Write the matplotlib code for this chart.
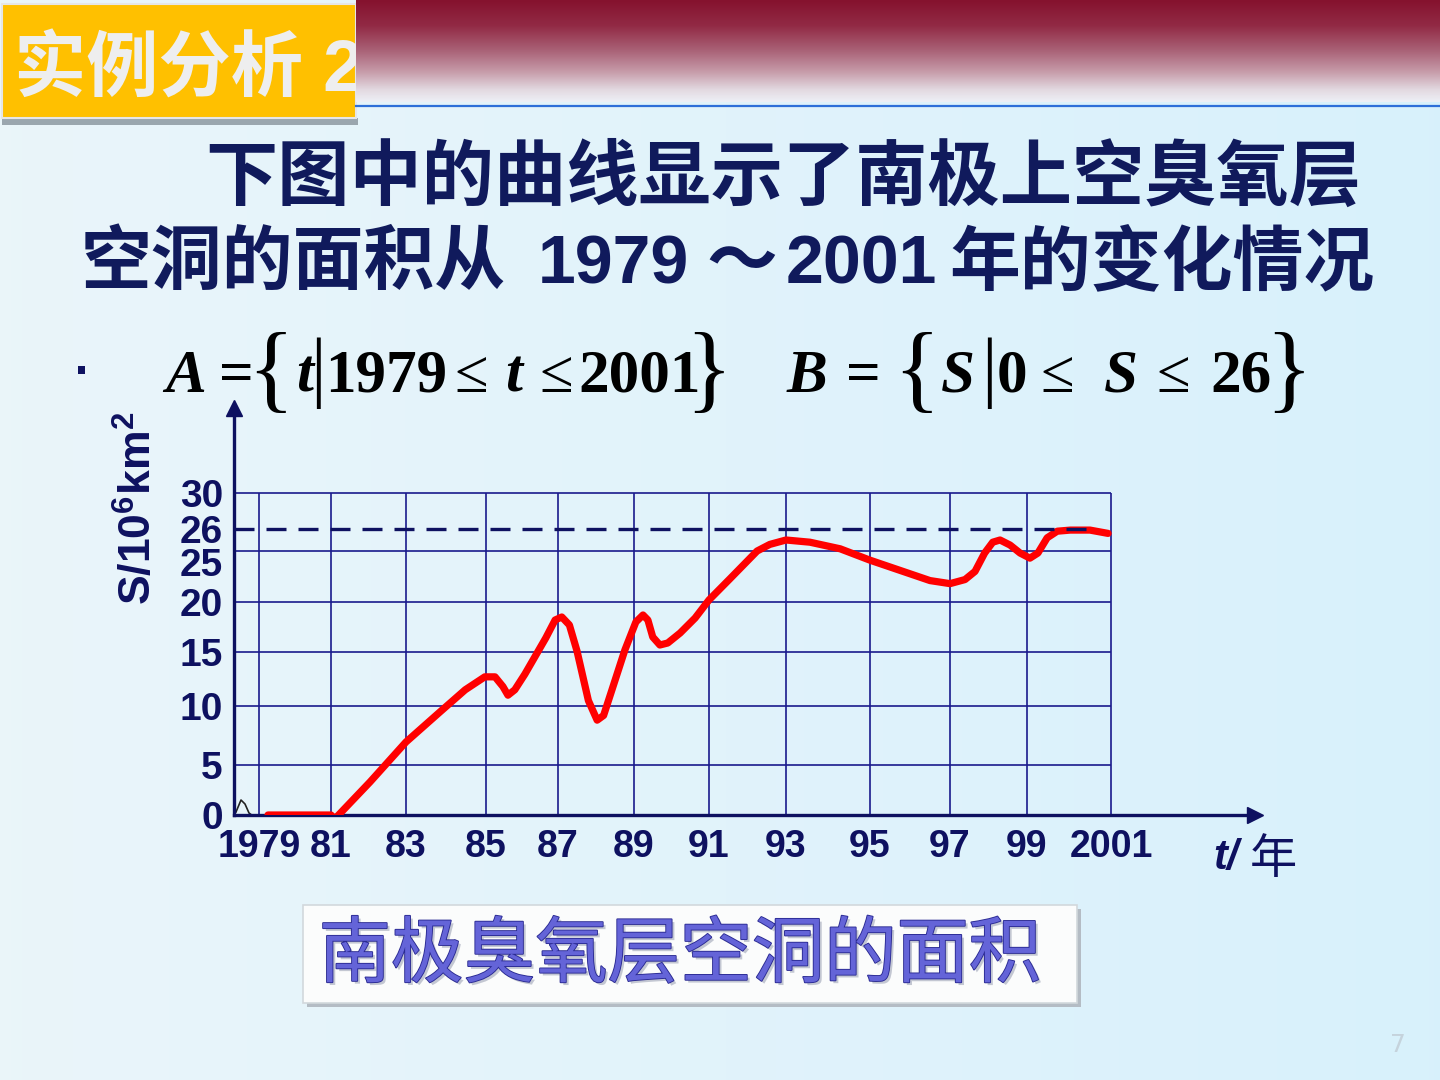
import numpy as np
import matplotlib.pyplot as plt
from matplotlib import patheffects as pe
from matplotlib.patches import Rectangle
from matplotlib.colors import LinearSegmentedColormap
from matplotlib.transforms import ScaledTranslation

plt.rcParams['mathtext.fontset'] = 'custom'
plt.rcParams['mathtext.rm'] = 'Liberation Sans:bold'
plt.rcParams['mathtext.it'] = 'Liberation Sans:italic:bold'

# ---- data ----
year_ticks = [1979, 1981, 1983, 1985, 1987, 1989, 1991, 1993, 1995, 1997, 1999, 2001]
year_labels = ['1979', '81', '83', '85', '87', '89', '91', '93', '95', '97', '99', '2001']
s_ticks = [0, 5, 10, 15, 20, 25, 26, 30]
s_labels = ['0', '5', '10', '15', '20', '25', '26', '30']
grid_s = [5, 10, 15, 20, 25, 30]
s_limit = 26

# ozone hole area (10^6 km^2)
years = [1979.25, 1981.0, 1981.1, 1982.04, 1983.0, 1983.85, 1984.48, 1984.97, 1985.25,
         1985.47, 1985.61, 1985.8, 1986.08, 1986.66, 1986.92, 1987.1, 1987.3, 1987.5,
         1987.8, 1988.03, 1988.2, 1988.42, 1988.76, 1989.05, 1989.24, 1989.37, 1989.5,
         1989.69, 1989.9, 1990.23, 1990.63, 1991.0, 1991.55, 1992.25, 1992.58, 1993.0,
         1993.57, 1994.29, 1995.0, 1995.75, 1996.5, 1997.0, 1997.39, 1997.65, 1997.9,
         1998.11, 1998.3, 1998.56, 1998.82, 1999.07, 1999.26, 1999.48, 1999.72, 2000.03,
         2000.5, 2000.93]
area = [0.0, 0.0, -0.4, 3.3, 6.95, 9.5, 11.5, 12.7, 12.7,
        11.8, 11.0, 11.5, 12.95, 16.4, 18.2, 18.5, 17.7, 15.1,
        10.5, 8.8, 9.2, 11.5, 15.2, 18.0, 18.7, 18.2, 16.5,
        15.7, 15.9, 16.9, 18.4, 20.2, 22.3, 25.0, 25.3, 25.5,
        25.4, 25.1, 24.1, 23.1, 22.1, 21.8, 22.2, 23.0, 24.8,
        25.4, 25.5, 25.27, 24.8, 24.3, 24.8, 25.6, 25.9, 25.95,
        25.95, 25.8]

# ---- layout: the hand-drawn grid is not evenly spaced ----
W, H = 1440, 1080
x_grid_pix = [259, 331, 406, 486, 558, 634, 709, 786, 870, 950, 1027, 1111]
y_grid_pix = [815, 765, 706, 652, 602, 551, 529, 493]

NAVY = '#0e1160'
GRIDC = '#1a1a8c'
TITLE = '#101a5c'
CJK = ['Liberation Sans', 'Noto Sans CJK SC']

xv = np.r_[1950, year_ticks, 2050]
xp = np.r_[259 - 29 * 36.0, x_grid_pix, 1111 + 49 * 38.7]
yv = np.r_[-50, s_ticks, 100]
yp = -np.r_[815 + 50 * 10.0, y_grid_pix, 493 - 70 * 9.0]


def fx(v):
    return np.interp(v, xv, xp)


def ix(p):
    return np.interp(p, xp, xv)


def fy(v):
    return np.interp(v, yv, yp)


def iy(p):
    return np.interp(p, yp, yv)


fig = plt.figure(figsize=(14.4, 10.8), dpi=100)

# background / slide decoration in pixel coordinates
bg = fig.add_axes([0, 0, 1, 1])
bg.set_xlim(0, W)
bg.set_ylim(H, 0)
bg.axis('off')
g = np.linspace(0, 1, 256)
c_left = np.array([0.918, 0.961, 0.980])
c_right = np.array([0.847, 0.945, 0.988])
img = c_left[None, :] * (1 - g[:, None]) + c_right[None, :] * g[:, None]
bg.imshow(img[None, :, :], extent=[0, W, H, 0], aspect='auto', zorder=0)

banner = LinearSegmentedColormap.from_list('banner', [
    (0.0, '#85122e'), (0.25, '#922a45'), (0.5, '#aa6378'),
    (0.7, '#c69aa8'), (0.88, '#e2d8e0'), (1.0, '#eef0f6')])
bg.imshow(np.linspace(0, 1, 200)[:, None], cmap=banner, extent=[356, W, 102, 0],
          aspect='auto', zorder=3)
bg.plot([356, W], [106, 106], color='#2e6fd8', lw=1.6, zorder=3)

# orange tag
bg.add_patch(Rectangle((2, 118), 356, 7, fc='#9aa6ae', ec='none', zorder=1))
bg.add_patch(Rectangle((2, 4), 354, 114, fc='#FFC000', ec='#e6e6e6', lw=1.5, zorder=1))
bg.text(14, 72, '实例分析 2', fontsize=52, fontweight='bold', color='#EEEEEE',
        family=CJK, va='center', ha='left', zorder=2)

# title
bg.text(205, 180, '下图中的曲线显示了南极上空臭氧层', fontsize=52, fontweight='bold',
        color=TITLE, family=CJK, va='center', ha='left')
title2 = [('空洞的面积从', 81, 'left', 51), ('1979', 538, 'left', 49), ('～', 742, 'center', 51),
          ('2001', 786, 'left', 49), ('年的变化情况', 949, 'left', 51)]
for txt, x0, ha, size in title2:
    bg.text(x0, 266, txt, fontsize=size, fontweight='bold', color=TITLE, family=CJK,
            va='center', ha=ha)

# bullet and set notation
bg.add_patch(Rectangle((78, 366), 7, 8, fc=NAVY, ec='none'))
serif = 'Liberation Serif'
base = 392
tokens = [
    ('A', 186, 'italic', 'bold', 44), ('=', 236, 'normal', 'bold', 44),
    ('{', 271, 'normal', 'normal', 70), ('t', 305, 'italic', 'bold', 44),
    ('|', 318, 'normal', 'normal', 56), ('1979', 386, 'normal', 'bold', 44),
    ('≤', 471, 'normal', 'normal', 44), ('t', 514, 'italic', 'bold', 44),
    ('≤', 556, 'normal', 'normal', 44), ('2001', 640, 'normal', 'bold', 44),
    ('}', 709, 'normal', 'normal', 70),
    ('B', 807, 'italic', 'bold', 44), ('=', 863, 'normal', 'bold', 44),
    ('{', 916, 'normal', 'normal', 70), ('S', 958, 'italic', 'bold', 44),
    ('|', 989, 'normal', 'normal', 56), ('0', 1012, 'normal', 'bold', 44),
    ('≤', 1057, 'normal', 'normal', 44), ('S', 1121, 'italic', 'bold', 44),
    ('≤', 1173, 'normal', 'normal', 44), ('26', 1241, 'normal', 'bold', 44),
    ('}', 1289, 'normal', 'normal', 70),
]
for txt, xc, style, weight, size in tokens:
    y0 = base + 8 if txt in '{}' else base
    bg.text(xc, y0, txt, family=serif, fontstyle=style, fontweight=weight,
            fontsize=size, color='black', ha='center', va='baseline')

# axis labels
bg.text(139, 508, r'$\mathrm{S/10^6km^2}$', rotation=90, fontsize=32, color=NAVY,
        ha='center', va='center')
bg.text(1213, 858, 't/', fontstyle='italic', fontweight='bold', fontsize=30,
        family='Liberation Sans', color=NAVY, va='center', ha='left')
bg.text(1250, 860, '年', fontsize=34, family='Noto Sans CJK SC', color=NAVY,
        va='center', ha='left')
# axis break mark
bg.plot([236, 241, 245, 249, 253, 258], [812, 800, 804, 813, 816, 816],
        color='#222222', lw=1.2, zorder=5)

# caption box
bg.add_patch(Rectangle((307, 909), 774, 98, fc='#b4bcc4', ec='none', zorder=1))
bg.add_patch(Rectangle((303, 905), 774, 98, fc='#fbfcfc', ec='#d2d8dc', lw=1.2, zorder=2))
bg.text(680, 956, '南极臭氧层空洞的面积', fontsize=52, family='Noto Sans CJK SC',
        color='#6464d8', ha='center', va='center', zorder=3,
        path_effects=[pe.withSimplePatchShadow(offset=(2, -2), shadow_rgbFace='#8088a0', alpha=0.45),
                      pe.withStroke(linewidth=1.3, foreground='#2a2a92')])

bg.text(1398, 1045, '7', fontsize=18, color='#c5d3dc', ha='center', va='center')

# ---- chart ----
ax = fig.add_axes([234 / W, 1 - 815 / H, (1255 - 234) / W, (815 - 408) / H])
ax.set_xscale('function', functions=(fx, ix))
ax.set_yscale('function', functions=(fy, iy))
x0, x1 = ix(234.0), ix(1255.0)
ax.set_xlim(x0, x1)
ax.set_ylim(0, float(iy(-408.0)))
ax.patch.set_alpha(0)

for side in ['top', 'right']:
    ax.spines[side].set_visible(False)
for side in ['left', 'bottom']:
    ax.spines[side].set_linewidth(2.4)
    ax.spines[side].set_color(NAVY)
ax.plot([0], [1], marker='^', ms=11, color=NAVY, transform=ax.transAxes, clip_on=False)
ax.plot([1], [0], marker='>', ms=11, color=NAVY, transform=ax.transAxes, clip_on=False)

ax.vlines(year_ticks, 0, max(grid_s), colors=GRIDC, lw=1.2, zorder=1)
ax.hlines(grid_s, x0, year_ticks[-1], colors=GRIDC, lw=1.2, zorder=1)
ax.plot(years, area, color='#ff0000', lw=5.2, solid_capstyle='round',
        solid_joinstyle='round', zorder=3)
ax.hlines(s_limit, x0, 2000.7, colors=NAVY, lw=2.4, linestyles=(0, (6, 3.6)), zorder=4)

ax.set_xticks(year_ticks, year_labels)
ax.set_yticks(s_ticks, s_labels)
ax.tick_params(length=0)
ax.tick_params(axis='x', pad=10)
ax.tick_params(axis='y', pad=8)
for lab in ax.get_xticklabels() + ax.get_yticklabels():
    lab.set_fontfamily('Liberation Sans')
    lab.set_fontweight('bold')
    lab.set_color(NAVY)
for lab in ax.get_xticklabels():
    lab.set_fontsize(27)
for lab in ax.get_yticklabels():
    lab.set_fontsize(28)
    if lab.get_text() == '25':
        lab.set_transform(lab.get_transform() + ScaledTranslation(0, -0.11, fig.dpi_scale_trans))

fig.savefig('out.png', dpi=100)
